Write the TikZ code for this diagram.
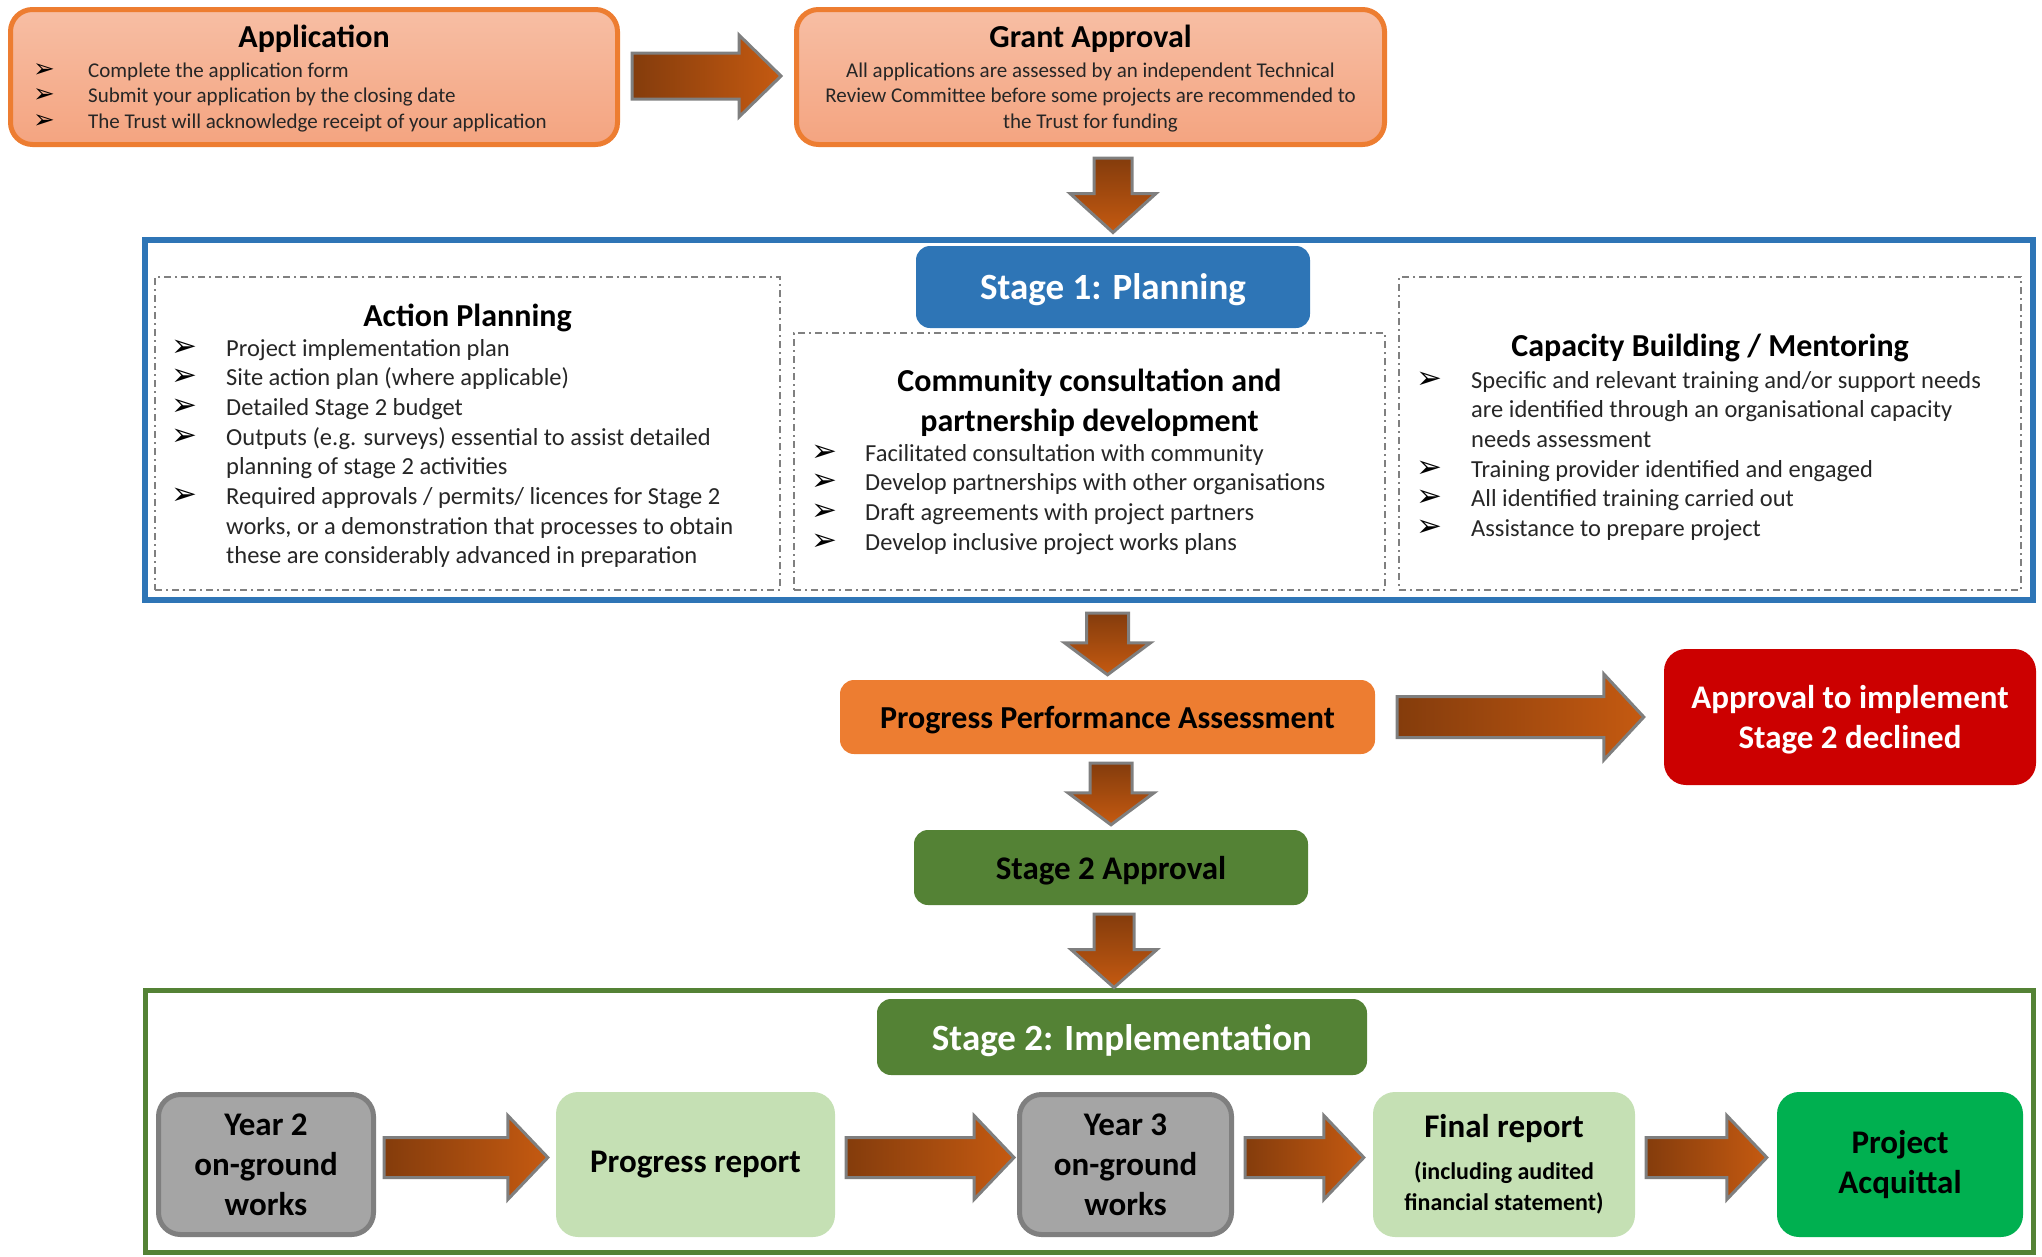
\documentclass[tikz,border=0pt]{standalone}
\usepackage{fontspec}
\setmainfont{Carlito}
\newfontfamily\dv{DejaVu Sans}
\usetikzlibrary{calc}
\definecolor{boxorange}{HTML}{ED7D31}
\definecolor{toptop}{HTML}{F7BEA4}
\definecolor{topbot}{HTML}{F4A480}
\definecolor{sblue}{HTML}{2E75B6}
\definecolor{sgreen}{HTML}{548235}
\definecolor{declred}{HTML}{CC0000}
\definecolor{lgreen}{HTML}{C5E0B4}
\definecolor{bgreen}{HTML}{00B050}
\definecolor{gfill}{HTML}{A5A5A5}
\definecolor{gline}{HTML}{7F7F7F}
\definecolor{adark}{HTML}{843C0C}
\definecolor{aorange}{HTML}{C55A11}
\definecolor{bodyc}{HTML}{262626}
\definecolor{dashc}{HTML}{808080}

% horizontal block arrow: start, end, shaft half, head half, head length
\newcommand\harrow[5]{%
  \path #1 coordinate (hs) #2 coordinate (he);
  \draw[barrow, left color=adark, right color=aorange]
    ($(hs)+(0,-#3)$) -- ($(he)+(-#5,-#3)$) -- ($(he)+(-#5,-#4)$) -- (he)
    -- ($(he)+(-#5,#4)$) -- ($(he)+(-#5,#3)$) -- ($(hs)+(0,#3)$) -- cycle;}
% vertical (downward) block arrow
\newcommand\varrow[5]{%
  \path #1 coordinate (vs) #2 coordinate (ve);
  \draw[barrow, top color=adark, bottom color=aorange]
    ($(vs)+(-#3,0)$) -- ($(ve)+(-#3,-#5)$) -- ($(ve)+(-#4,-#5)$) -- (ve)
    -- ($(ve)+(#4,-#5)$) -- ($(ve)+(#3,-#5)$) -- ($(vs)+(#3,0)$) -- cycle;}

\begin{document}
\begin{tikzpicture}[x=1pt,y=-1pt,
  topbox/.style={draw=boxorange, line width=5pt, rounded corners=22pt, top color=toptop, bottom color=topbot, minimum width=607pt, minimum height=135pt, inner sep=0},
  stageframe/.style={minimum width=1888pt, inner sep=0},
  dashbox/.style={draw=dashc, line width=1.5pt, dash pattern=on 7pt off 4pt on 2pt off 4pt, inner sep=0},
  hdr/.style={rounded corners=14pt, text=white, font=\bfseries\fontsize{37}{44}\selectfont, inner sep=0, text depth=0pt},
  flowbox/.style={rounded corners=14pt, font=\bfseries\fontsize{33}{40}\selectfont, align=center, inner sep=0},
  rowbox/.style={rounded corners=22pt, minimum height=145pt, font=\bfseries\fontsize{33}{40}\selectfont, align=center, inner sep=0},
  graybox/.style={rowbox, fill=gfill, draw=gline, line width=5pt, minimum height=140pt},
  ttl/.style={font=\bfseries\fontsize{32}{38}\selectfont, anchor=base, inner sep=0},
  smalltxt/.style={font=\fontsize{21}{25.5}\selectfont, text=bodyc, inner sep=0},
  bodytxt/.style={font=\fontsize{24.5}{30}\selectfont, text=bodyc, anchor=base west, inner sep=0},
  bulletmk/.style={font=\dv\fontsize{31}{34}\selectfont, anchor=base west, inner sep=0},
  smallbullet/.style={font=\dv\fontsize{26}{28}\selectfont, anchor=base west, inner sep=0},
  barrow/.style={draw=gline, line width=3pt, line join=miter}
]
\useasboundingbox (0,0) rectangle (2042,1256);

% ---- top row
\node[topbox] (app) at (314,77) {};
\node[ttl] (appT) at (314,47) {Application};
\node[smallbullet] (appB1) at (33,77) {➢};
\node[smallbullet] (appB2) at (33,102.5) {➢};
\node[smallbullet] (appB3) at (33,128) {➢};
\node[smalltxt, anchor=base west] (appL1) at (88,77) {Complete the application form};
\node[smalltxt, anchor=base west] (appL2) at (88,102.5) {Submit your application by the closing date};
\node[smalltxt, anchor=base west] (appL3) at (88,128) {The Trust will acknowledge receipt of your application};

\node[topbox, minimum width=588pt] (grant) at (1090.5,77) {};
\node[ttl] (grT) at (1090.5,47) {Grant Approval};
\node[smalltxt, anchor=base] (grL1) at (1090.5,77) {All applications are assessed by an independent Technical};
\node[smalltxt, anchor=base] (grL2) at (1090.5,102.5) {Review Committee before some projects are recommended to};
\node[smalltxt, anchor=base] (grL3) at (1090.5,128) {the Trust for funding};

% ---- stage 1
\node[stageframe, draw=sblue, line width=6pt, minimum height=360.5pt] (f1) at (1089,419.75) {};
\node[dashbox, minimum width=625pt, minimum height=313pt] (apbox) at (467.5,433.5) {};
\node[dashbox, minimum width=591pt, minimum height=257pt] (cobox) at (1089.5,461.5) {};
\node[dashbox, minimum width=622pt, minimum height=313pt] (cabox) at (1710,433.5) {};
\node[hdr, fill=sblue, minimum width=394pt, minimum height=82pt] (s1h) at (1113,287) {Stage 1: Planning};

\node[ttl] (apT) at (467.5,326) {Action Planning};
\node[bulletmk] (apB1) at (171,356) {➢};
\node[bulletmk] (apB2) at (171,385.7) {➢};
\node[bulletmk] (apB3) at (171,415.4) {➢};
\node[bulletmk] (apB4) at (171,445.1) {➢};
\node[bulletmk] (apB6) at (171,504.5) {➢};
\node[bodytxt] (apL1) at (226,356) {Project implementation plan};
\node[bodytxt] (apL2) at (226,385.7) {Site action plan (where applicable)};
\node[bodytxt] (apL3) at (226,415.4) {Detailed Stage 2 budget};
\node[bodytxt] (apL4) at (226,445.1) {Outputs (e.g. surveys) essential to assist detailed};
\node[bodytxt] (apL5) at (226,474.8) {planning of stage 2 activities};
\node[bodytxt] (apL6) at (226,504.5) {Required approvals / permits/ licences for Stage 2};
\node[bodytxt] (apL7) at (226,534.2) {works, or a demonstration that processes to obtain};
\node[bodytxt] (apL8) at (226,563.9) {these are considerably advanced in preparation};

\node[ttl] (coT1) at (1089.5,391) {Community consultation and};
\node[ttl] (coT2) at (1089.5,431) {partnership development};
\node[bulletmk] (coB1) at (811,461) {➢};
\node[bulletmk] (coB2) at (811,490.7) {➢};
\node[bulletmk] (coB3) at (811,520.4) {➢};
\node[bulletmk] (coB4) at (811,550.1) {➢};
\node[bodytxt] (coL1) at (865,461) {Facilitated consultation with community};
\node[bodytxt] (coL2) at (865,490.7) {Develop partnerships with other organisations};
\node[bodytxt] (coL3) at (865,520.4) {Draft agreements with project partners};
\node[bodytxt] (coL4) at (865,550.1) {Develop inclusive project works plans};

\node[ttl] (caT) at (1710,356) {Capacity Building / Mentoring};
\node[bulletmk] (caB1) at (1416,388) {➢};
\node[bulletmk] (caB4) at (1416,477.1) {➢};
\node[bulletmk] (caB5) at (1416,506.8) {➢};
\node[bulletmk] (caB6) at (1416,536.5) {➢};
\node[bodytxt] (caL1) at (1471,388) {Specific and relevant training and/or support needs};
\node[bodytxt] (caL2) at (1471,417.7) {are identified through an organisational capacity};
\node[bodytxt] (caL3) at (1471,447.4) {needs assessment};
\node[bodytxt] (caL4) at (1471,477.1) {Training provider identified and engaged};
\node[bodytxt] (caL5) at (1471,506.8) {All identified training carried out};
\node[bodytxt] (caL6) at (1471,536.5) {Assistance to prepare project};

% ---- middle
\node[flowbox, fill=boxorange, minimum width=535pt, minimum height=74pt, text depth=0pt, font=\bfseries\fontsize{32}{38}\selectfont] (ppa) at (1107.5,717) {Progress Performance Assessment};
\node[flowbox, fill=declred, text=white, rounded corners=22pt, minimum width=372pt, minimum height=136pt, text depth=0pt] (decl) at (1850,717) {Approval to implement\\Stage 2 declined};
\node[flowbox, fill=sgreen, minimum width=394pt, minimum height=75pt, text depth=0pt] (s2a) at (1111,867.5) {Stage 2 Approval};

% ---- stage 2
\node[stageframe, draw=sgreen, line width=5pt, minimum height=262pt] (f2) at (1089,1121) {};
\node[hdr, fill=sgreen, minimum width=490pt, minimum height=76pt] (s2i) at (1122,1037) {Stage 2: Implementation};
\node[graybox, minimum width=215pt] (y2) at (266,1164.5) {Year 2\\on-ground\\works};
\node[rowbox, fill=lgreen, minimum width=279pt] (pr) at (695.5,1164.5) {Progress report};
\node[graybox, minimum width=212pt] (y3) at (1125.5,1164.5) {Year 3\\on-ground\\works};
\node[rowbox, fill=lgreen, minimum width=262pt] (fr) at (1504,1164.5) {Final report\\[2pt]\fontsize{24}{31}\selectfont (including audited\\[-9pt]\fontsize{24}{31}\selectfont financial statement)};
\node[rowbox, fill=bgreen, minimum width=246pt] (pa) at (1900,1164.5) {Project\\Acquittal};

% ---- block arrows
\harrow{($(app.east)+(12,-1)$)}{($(grant.west)+(-13,-1)$)}{23}{41}{42}
\varrow{($(s1h.north |- grant.south)+(0,11)$)}{($(s1h.north |- f1.north)+(0,-4)$)}{19}{43}{39}
\varrow{($(ppa.north |- f1.south)+(0,10)$)}{($(ppa.north)+(0,-5)$)}{21}{43}{32}
\varrow{($(s2a.north |- ppa.south)+(0,9)$)}{($(s2a.north)+(0,-5)$)}{21}{43}{32}
\harrow{($(ppa.east)+(22,0)$)}{($(decl.west)+(-20,0)$)}{20.5}{43}{40}
\varrow{($(s2a.south)+(3,9)$)}{($(s2a.south |- f2.north)+(3,0)$)}{20}{43}{38}
\harrow{($(y2.east)+(8,-7)$)}{($(pr.west)+(-8,-7)$)}{20}{42}{40}
\harrow{($(pr.east)+(11,-7)$)}{($(y3.west)+(-3,-7)$)}{20}{42}{40}
\harrow{($(y3.east)+(11,-7)$)}{($(fr.west)+(-9,-7)$)}{20}{42}{40}
\harrow{($(fr.east)+(11,-7)$)}{($(pa.west)+(-10,-7)$)}{20}{42}{40}
\end{tikzpicture}
\end{document}
